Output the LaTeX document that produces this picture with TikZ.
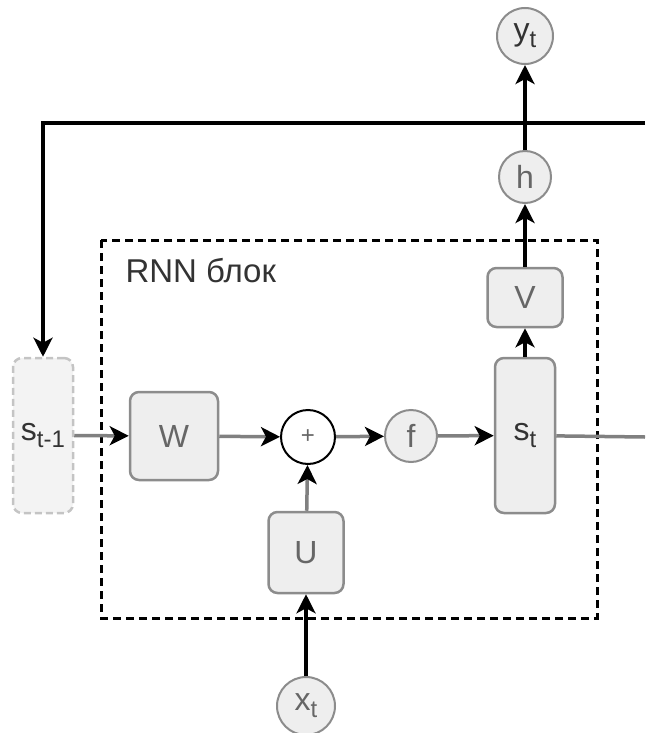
\documentclass[tikz,border=0pt]{standalone}
\usepackage{fontspec}
\setmainfont{Liberation Sans}
\usetikzlibrary{arrows.meta}
\definecolor{boxfill}{HTML}{EEEEEE}
\definecolor{boxline}{HTML}{8C8C8C}
\definecolor{ghostline}{HTML}{C4C4C4}
\definecolor{ghostfill}{HTML}{F3F3F3}
\definecolor{txtgray}{HTML}{666666}
\definecolor{txtdark}{HTML}{333333}
\definecolor{linegray}{HTML}{808080}
\newcommand{\sublbl}[1]{\raisebox{-7pt}{\fontsize{24}{24}\selectfont #1}}
\begin{document}
\begin{tikzpicture}[x=1pt,y=-1pt,
  blk/.style={draw=boxline, line width=2.5pt, fill=boxfill, rounded corners=9pt, inner sep=0pt},
  circ/.style={circle, draw=boxline, line width=2pt, fill=boxfill, inner sep=0pt},
  lbl/.style={font=\fontsize{32}{36}\selectfont, text=txtgray},
  dlbl/.style={font=\fontsize{32}{36}\selectfont, text=txtdark},
  tipk/.style={-{Stealth[length=19pt,width=19pt,inset=5pt,color=black]}},
  grayarr/.style={draw=linegray, line width=3.5pt, tipk},
  blackarr/.style={draw=black, line width=3.5pt, tipk},
  grayline/.style={draw=linegray, line width=3.5pt},
  frame/.style={draw=black, line width=3pt, dash pattern=on 8pt off 5pt}
]
\useasboundingbox (0,0) rectangle (645,733);

% dashed RNN block frame
\draw[frame] (101,240) rectangle (597,618);
\node[anchor=base west, font=\fontsize{33}{36}\selectfont, text=txtdark] (rnn) at (122,282) {RNN блок};

% nodes
\node[blk, draw=ghostline, fill=ghostfill, dash pattern=on 7pt off 4pt, minimum width=60pt, minimum height=155pt, dlbl] (sprev) at (43,435.5) {s\sublbl{t-1}};
\node[blk, minimum width=88pt, minimum height=88pt, lbl] (W) at (174,436) {W};
\node[circle, draw=black, line width=2pt, fill=white, minimum size=54pt, inner sep=0pt, font=\fontsize{24}{24}\selectfont, text=txtgray] (plus) at (308,437) {+};
\node[circ, minimum size=52pt, lbl] (f) at (411,436) {f};
\node[blk, minimum width=60pt, minimum height=155pt, dlbl] (st) at (525,435.5) {s\sublbl{t}};
\node[blk, minimum width=75pt, minimum height=59pt, lbl] (V) at (525,297.5) {V};
\node[circ, minimum size=52pt, lbl] (h) at (525,177) {h};
\node[circ, minimum size=56pt, dlbl] (yt) at (525,36) {y\sublbl{t}};
\node[blk, minimum width=75pt, minimum height=81pt, lbl] (U) at (306,552.5) {U};
\node[circ, minimum size=58pt, lbl] (xt) at (306,706) {x\sublbl{t}};

\coordinate (rightout) at (645,437);
\coordinate (fbstart) at (645,123);

% connectors
\draw[grayarr] (sprev) -- (W);
\draw[grayarr] (W) -- (plus);
\draw[grayarr] (plus) -- (f);
\draw[grayarr] (f) -- (st);
\draw[grayline] (st) -- (rightout);
\draw[grayarr] (U) -- (plus);
\draw[blackarr] (xt) -- (U);
\draw[blackarr] (st) -- (V);
\draw[blackarr] (V) -- (h);
\draw[blackarr] (h) -- (yt);
\draw[blackarr] (fbstart) -| (sprev.north);
\end{tikzpicture}
\end{document}
